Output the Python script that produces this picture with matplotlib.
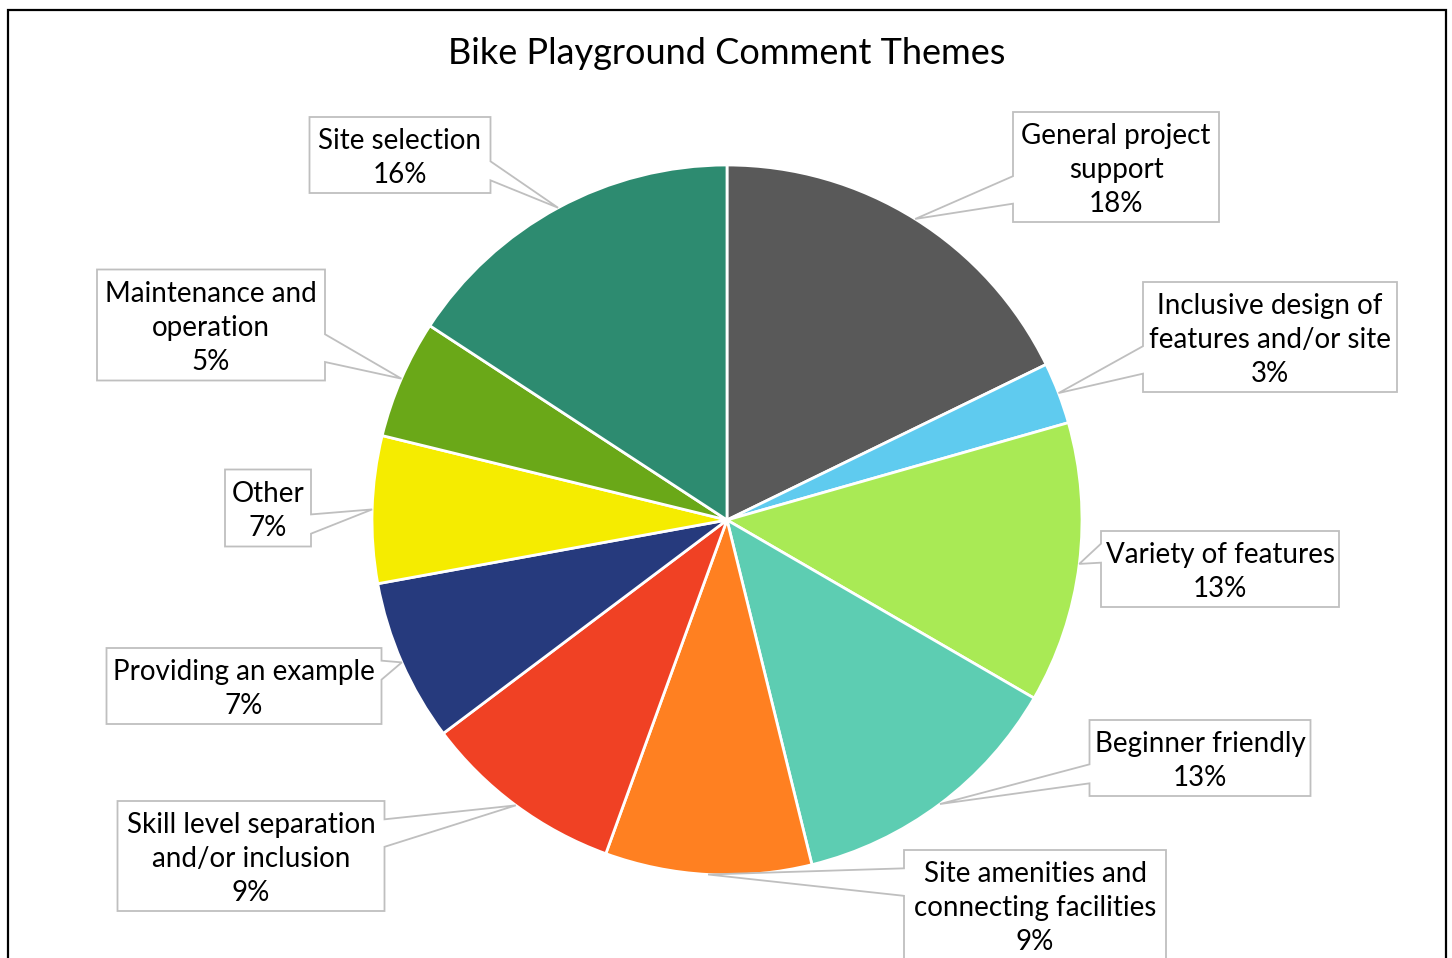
import matplotlib
matplotlib.use("Agg")
import matplotlib.pyplot as plt
from matplotlib.patches import Polygon
import numpy as np

plt.rcParams['font.family'] = ['Lato', 'DejaVu Sans']

# Comment themes, clockwise from 12 o'clock (share of comments, %)
themes = [
    "General project\nsupport",
    "Inclusive design of\nfeatures and/or site",
    "Variety of features",
    "Beginner friendly",
    "Site amenities and\nconnecting facilities",
    "Skill level separation\nand/or inclusion",
    "Providing an example",
    "Other",
    "Maintenance and\noperation",
    "Site selection",
]
shares = [17.8, 2.8, 12.8, 12.8, 9.4, 9.2, 7.4, 6.7, 5.4, 15.8]
colors = ["#595959", "#5FCBEF", "#A9EA55", "#5DCDB2", "#FF8021",
          "#F04124", "#263A7D", "#F5EC00", "#6AA818", "#2D8B70"]

# callout boxes in pixel coords: centre x, centre y, width, height (y measured downward)
boxes = [
    (1116, 167, 206, 110),
    (1270, 337, 254, 110),
    (1220, 569, 238, 76),
    (1200, 758, 221, 76),
    (1035, 905, 262, 110),
    (251, 856, 267, 110),
    (244, 686, 275, 76),
    (268, 508, 86, 77),
    (211, 325, 228, 111),
    (400, 155, 181, 76),
]

W, H = 1452, 958
fig = plt.figure(figsize=(W / 100, H / 100), dpi=100)
ax = fig.add_axes([0, 0, 1, 1])
ax.set_xlim(0, W)
ax.set_ylim(0, H)
ax.axis("off")

cx, cy, R = 727, 520, 355
wedges, _ = ax.pie(shares, colors=colors, startangle=90, counterclock=False,
                   center=(cx, H - cy), radius=R, normalize=True,
                   wedgeprops=dict(edgecolor="white", linewidth=2))
ax.set_xlim(0, W)
ax.set_ylim(0, H)
ax.set_aspect("equal")


def callout(bx, by, bw, bh, tx, ty):
    """Rectangle callout with a wedge pointer (pixel coords, y down)."""
    l, r, t, b = bx - bw / 2, bx + bw / 2, by - bh / 2, by + bh / 2
    dx, dy = tx - bx, ty - by
    x1 = l + bw * (7 if dx > 0 else 2) / 12
    x2 = l + bw * (10 if dx > 0 else 5) / 12
    y1 = t + bh * (7 if dy > 0 else 2) / 12
    y2 = t + bh * (10 if dy > 0 else 5) / 12
    if abs(dy) > abs(dx) * bh / bw:
        if dy < 0:
            pts = [(l, t), (x1, t), (tx, ty), (x2, t), (r, t), (r, b), (l, b)]
        else:
            pts = [(l, t), (r, t), (r, b), (x2, b), (tx, ty), (x1, b), (l, b)]
    else:
        if dx < 0:
            pts = [(l, t), (r, t), (r, b), (l, b), (l, y2), (tx, ty), (l, y1)]
        else:
            pts = [(l, t), (r, t), (r, y1), (tx, ty), (r, y2), (r, b), (l, b)]
    pts = [(x, H - y) for x, y in pts]
    ax.add_patch(Polygon(pts, closed=True, facecolor="white",
                         edgecolor="#BFBFBF", linewidth=1.3, zorder=3))


total = sum(shares)
for wdg, name, val, (bx, by, bw, bh) in zip(wedges, themes, shares, boxes):
    mid = np.deg2rad((wdg.theta1 + wdg.theta2) / 2)
    tx = cx + R * np.cos(mid)
    ty = cy - R * np.sin(mid)
    callout(bx, by, bw, bh, tx, ty)
    ax.text(bx, H - by - 3, f"{name}\n{round(val / total * 100)}%", ha="center",
            va="center", fontsize=20, linespacing=1.37, color="black", zorder=4)

ax.text(cx, H - 53, "Bike Playground Comment Themes", ha="center", va="center",
        fontsize=26, color="black")

# chart frame
ax.plot([8, 8, 1446, 1446], [-10, H - 10, H - 10, -10], color="black",
        linewidth=1.6, solid_joinstyle="miter", clip_on=False)

fig.savefig("out.png", dpi=100)
